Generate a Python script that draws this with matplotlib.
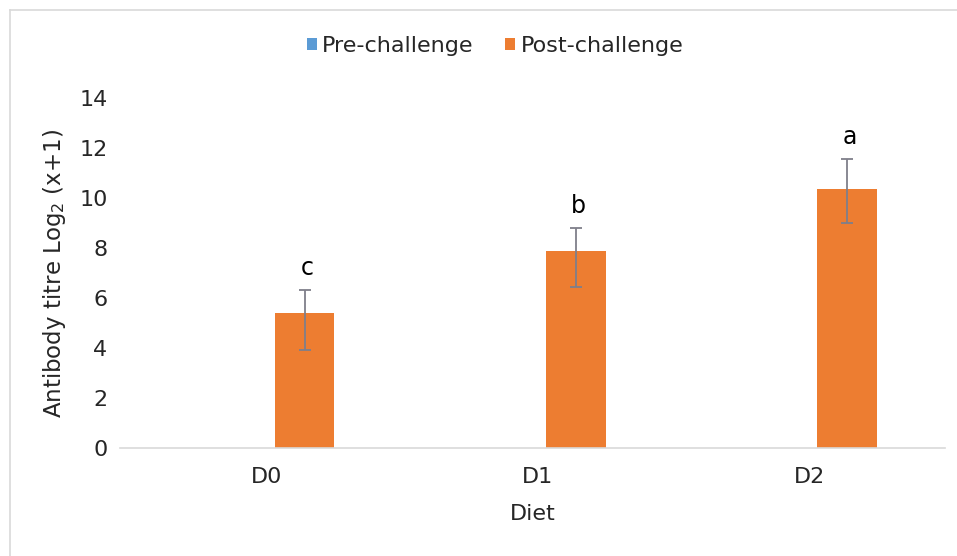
import numpy as np
import matplotlib
matplotlib.use("Agg")
import matplotlib.pyplot as plt
from matplotlib.lines import Line2D

# ------------------------------------------------------
# data
# ------------------------------------------------------
diets = ["D0", "D1", "D2"]
pre_challenge = [0.0, 0.0, 0.0]
post_challenge = [5.4, 7.88, 10.36]
post_err_low = [1.48, 1.44, 1.36]
post_err_high = [0.92, 0.92, 1.2]
letters = ["c", "b", "a"]

BLUE = "#5b9bd5"
ORANGE = "#ed7d31"
GRID = "#d9d9d9"
TXT = "#262626"

plt.rcParams["font.family"] = ["DejaVu Sans"]

fig = plt.figure(figsize=(9.57, 5.56), dpi=100)
ax = fig.add_axes([120 / 957, 1 - 448 / 556, 825 / 957, 350 / 556])

x = np.arange(len(diets))
width = 0.22
offset = 0.14

ax.bar(x - offset, pre_challenge, width, color=BLUE, label="Pre-challenge")
ax.bar(x + offset, post_challenge, width, color=ORANGE, label="Post-challenge")
ax.errorbar(x + offset, post_challenge,
            yerr=[post_err_low, post_err_high],
            fmt="none", ecolor="#7f7f8a", elinewidth=1.3,
            capsize=4, capthick=1.3)

# significance letters above the error bars
for xi, yi, hi, lt in zip(x + offset, post_challenge, post_err_high, letters):
    ax.annotate(lt, (xi, yi + hi), xytext=(2, 7), textcoords="offset points",
                ha="center", va="bottom", fontsize=17, color="black")

ax.set_xlim(-0.54, 2.5)
ax.set_ylim(0, 14)
ax.set_yticks(np.arange(0, 15, 2))
ax.set_xticks(x)
ax.set_xticklabels(diets)

for side in ["top", "right", "left"]:
    ax.spines[side].set_visible(False)
ax.spines["bottom"].set_color(GRID)
ax.spines["bottom"].set_linewidth(1.2)

ax.tick_params(axis="both", length=0, labelsize=16, labelcolor=TXT)
ax.tick_params(axis="y", pad=9)
ax.tick_params(axis="x", pad=14)

ax.set_xlabel("Diet", fontsize=16, color=TXT, labelpad=12)
ax.set_ylabel("Antibody titre Log$_2$ (x+1)", fontsize=16.5, color=TXT, labelpad=8)

fig.legend(loc="center", bbox_to_anchor=(495 / 957, 1 - 46 / 556), ncol=2,
           frameon=False, fontsize=16, handlelength=0.45, handleheight=0.45,
           handletextpad=0.25, columnspacing=1.4, labelcolor=TXT)

# chart area outline (top and left edges)
top = 1 - 9.5 / 556
left = 9.5 / 957
fig.add_artist(Line2D([left, 1.0], [top, top], transform=fig.transFigure,
                      color=GRID, linewidth=1.2))
fig.add_artist(Line2D([left, left], [0.0, top], transform=fig.transFigure,
                      color=GRID, linewidth=1.2))

fig.savefig("out.png", dpi=100, facecolor="white")
